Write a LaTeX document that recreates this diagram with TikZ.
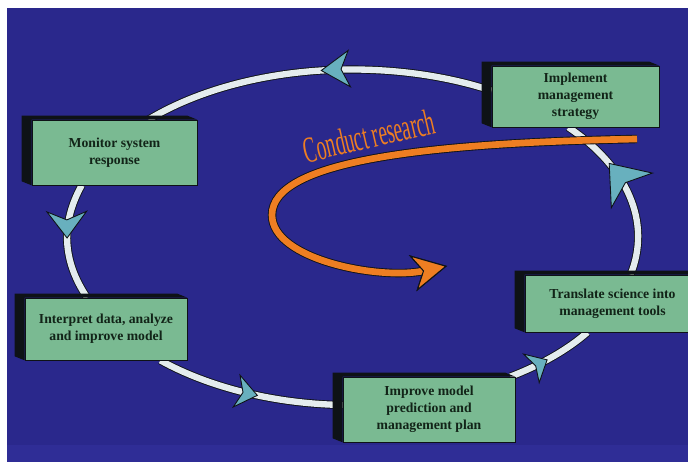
\documentclass[tikz,border=0pt]{standalone}
\usepackage{fontspec}
\setmainfont{Liberation Serif}
\usepackage{graphicx}
\usetikzlibrary{arrows.meta,decorations.markings,calc}
\definecolor{bgblue}{RGB}{42,40,140}
\definecolor{bandblue}{RGB}{47,45,150}
\definecolor{facegreen}{RGB}{122,186,146}
\definecolor{sidedark}{RGB}{14,18,22}
\definecolor{textgreen}{RGB}{18,36,24}
\definecolor{ringwhite}{RGB}{228,236,238}
\definecolor{headteal}{RGB}{104,176,190}
\definecolor{researchorange}{RGB}{238,126,34}
\pgfdeclarelayer{bg}
\pgfdeclarelayer{ring}
\pgfsetlayers{bg,ring,main}

\begin{document}
\begin{tikzpicture}
  [x=0.02cm,y=0.02cm,
   stagebox/.style={rectangle,fill=facegreen,draw=sidedark,line width=0.4pt,
     text=textgreen,font=\fontsize{7.8}{9.6}\selectfont\bfseries,align=center,inner sep=0pt},
   boxside/.style={fill=sidedark},
   ringlink/.style n args={4}{draw=ringwhite,line width=3.6pt,
     preaction={draw=sidedark,line width=4.6pt},
     postaction={decorate,decoration={markings,mark=at position #1 with
       {\arrow{Stealth[length=#2,width=#3,inset=#4,fill=headteal,color=sidedark,line width=0.5pt]}}}}},
   researcharrow/.style={draw=researchorange,line width=3.8pt,
     preaction={draw=sidedark,line width=4.8pt},
     -{Stealth[length=20pt,width=21pt,inset=6pt,fill=researchorange,color=sidedark,line width=0.6pt]}},
   researchlabel/.style={text=researchorange,font=\fontsize{21}{23}\selectfont,
     rotate=13,anchor=base,inner sep=0pt}]
  \useasboundingbox (0,0) rectangle (688,462);
  \clip (0,0) rectangle (688,462);

  \begin{pgfonlayer}{bg}
    \fill[white] (0,0) rectangle (688,462);
    \fill[bgblue] (7,0) rectangle (688,454);
    \fill[bandblue] (7,0) rectangle (688,17);
  \end{pgfonlayer}

  % stages of the cycle
  \node[stagebox,minimum width=3.34cm,minimum height=1.22cm] (impl) at (575.5,365.5) {Implement\\management\\strategy};
  \node[stagebox,minimum width=3.30cm,minimum height=1.30cm] (mon) at (114.5,309.5) {Monitor system\\response};
  \node[stagebox,minimum width=3.24cm,minimum height=1.24cm] (interp) at (106,133) {Interpret data, analyze\\and improve model};
  \node[stagebox,minimum width=3.44cm,minimum height=1.30cm] (improve) at (429,52.5) {Improve model\\prediction and\\management plan};
  \node[stagebox,minimum width=3.50cm,minimum height=1.14cm] (transl) at (612.5,158.5) {Translate science into\\management tools};

  \foreach \n in {impl,mon,interp,improve,transl}
    \fill[boxside] (\n.south west) -- ++(-10,4) |- ($(\n.north east)+(-10,4)$) -- (\n.north east) -- (\n.north west) -- cycle;

  % the ring
  \begin{pgfonlayer}{ring}
    \draw[ringlink={0.49}{17pt}{22pt}{5pt}] (impl.176) to[out=162,in=31,out looseness=0.88,in looseness=0.78] (mon.44);
    \draw[ringlink={0.47}{16pt}{24pt}{5pt}] (mon.225) to[out=241,in=124] (interp.121);
    \draw[ringlink={0.55}{13pt}{20pt}{4pt}] (interp.330) to[out=331,in=179,out looseness=0.77,in looseness=0.92] (improve.177);
    \draw[ringlink={0.46}{11pt}{20pt}{3pt}] (improve.22) to[out=21,in=221,out looseness=0.93,in looseness=0.78] (transl.229);
    \draw[ringlink={0.69}{21pt}{32pt}{6pt}] (transl.58) to[out=68,in=326,out looseness=0.9,in looseness=1.15] (impl.257);
  \end{pgfonlayer}

  % research arrow
  \coordinate (rsstart) at (637,323);
  \coordinate (rsend) at (447,196);
  \draw[researcharrow] (rsstart) .. controls (430,319) and (272,302) .. (272,247) .. controls (272,202) and (380,182) .. (rsend);
  \node[researchlabel] (rslabel) at (372,314) {\scalebox{0.52}[1]{Conduct research}};
\end{tikzpicture}
\end{document}
